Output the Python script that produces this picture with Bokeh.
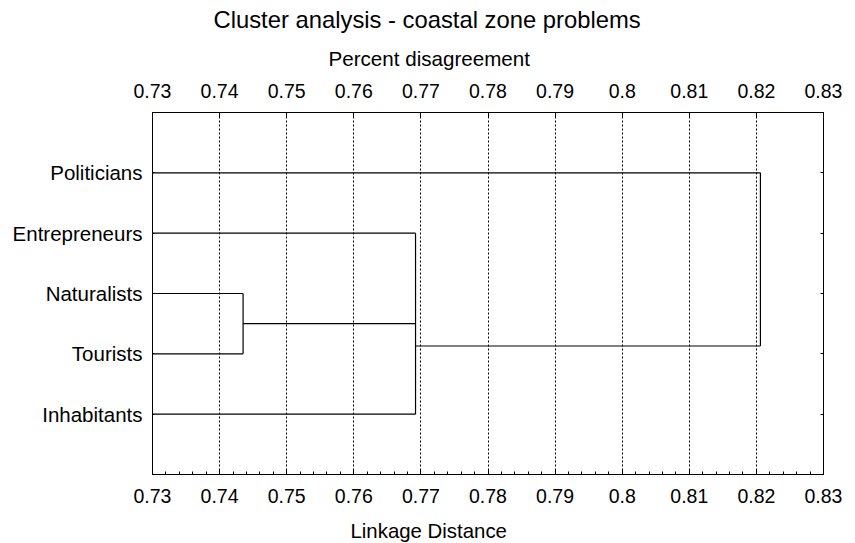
from bokeh.plotting import figure
from bokeh.models import Range1d, LinearAxis, FixedTicker, CustomJSTickFormatter, Title
from bokeh.embed import file_html
from bokeh.resources import INLINE

# ---- data ----
title_text = "Cluster analysis - coastal zone problems"
top_label = "Percent disagreement"
bottom_label = "Linkage Distance"

leaves = ["Politicians", "Entrepreneurs", "Naturalists", "Tourists", "Inhabitants"]
leaf_pos = [1, 2, 3, 4, 5]

x_ticks = [0.73, 0.74, 0.75, 0.76, 0.77, 0.78, 0.79, 0.80, 0.81, 0.82, 0.83]

merge_names = ["M1", "M2", "M3"]
merge_dist = [0.7435, 0.7692, 0.8206]
merge_members = [["Naturalists", "Tourists"],
                 ["Entrepreneurs", "M1", "Inhabitants"],
                 ["Politicians", "M2"]]
merge_exit_pos = [3.5, 3.87, None]

# ---- build dendrogram segments ----
node_x = {n: x_ticks[0] for n in leaves}
node_y = {n: y for n, y in zip(leaves, leaf_pos)}
xs, ys = [], []
for name, d, members, ey in zip(merge_names, merge_dist, merge_members, merge_exit_pos):
    for m in members:
        xs.append([node_x[m], d]); ys.append([node_y[m], node_y[m]])
    yv = [node_y[m] for m in members]
    xs.append([d, d]); ys.append([min(yv), max(yv)])
    node_x[name] = d
    node_y[name] = ey

FONT = "Liberation Sans"

p = figure(width=855, height=543, x_range=Range1d(0.73, 0.83), y_range=Range1d(6, 0),
           output_backend="svg", toolbar_location=None,
           x_axis_location=None, y_axis_location=None,
           min_border_left=152, min_border_right=32, min_border_top=112, min_border_bottom=69)
p.outline_line_color = "black"
p.outline_line_width = 1
p.background_fill_color = "white"
p.border_fill_color = "white"

fmt = CustomJSTickFormatter(code="return (Math.round(tick*100)/100).toString();")

def xaxis(loc, minor, standoff):
    ax = LinearAxis(ticker=FixedTicker(ticks=x_ticks,
                                       minor_ticks=[round(0.73 + i * 0.002, 4) for i in range(51)] if minor else []),
                    formatter=fmt)
    ax.axis_line_color = "black"
    ax.major_tick_line_color = "black"
    ax.major_tick_in = 5
    ax.major_tick_out = 0
    ax.minor_tick_line_color = "black" if minor else None
    ax.minor_tick_in = 3
    ax.minor_tick_out = 0
    ax.major_label_text_font = FONT
    ax.major_label_text_font_size = "19.5px"
    ax.major_label_text_color = "black"
    ax.major_label_standoff = standoff
    p.add_layout(ax, loc)
    return ax

xaxis("above", False, 15)
xaxis("below", True, 14)

yl = LinearAxis(ticker=FixedTicker(ticks=leaf_pos, minor_ticks=[]),
                major_label_overrides={v: n for v, n in zip(leaf_pos, leaves)})
yl.axis_line_color = "black"
yl.major_tick_line_color = "black"
yl.major_tick_in = 2
yl.major_tick_out = 0
yl.major_label_text_font = FONT
yl.major_label_text_font_size = "20.5px"
yl.major_label_text_color = "black"
yl.major_label_standoff = 10
p.add_layout(yl, "left")

yr = LinearAxis(ticker=FixedTicker(ticks=leaf_pos, minor_ticks=[]))
yr.axis_line_color = "black"
yr.major_tick_line_color = "black"
yr.major_tick_in = 3
yr.major_tick_out = 0
yr.major_label_text_font_size = "0px"
yr.major_label_text_color = None
p.add_layout(yr, "right")

p.xgrid.ticker = FixedTicker(ticks=x_ticks[1:-1])
p.xgrid.grid_line_color = "black"
p.xgrid.grid_line_dash = "2 2"
p.xgrid.grid_line_width = 1
p.ygrid.grid_line_color = None

p.multi_line(xs, ys, line_color="black", line_width=1.2)

# axis titles, offset so they are centred where the reference has them
p.add_layout(Title(text=top_label, align="left", offset=176, text_font=FONT,
                   text_font_size="20.6px", text_font_style="normal", text_color="black",
                   standoff=21), "above")
p.add_layout(Title(text=bottom_label, align="left", offset=198, text_font=FONT,
                   text_font_size="20.4px", text_font_style="normal", text_color="black",
                   standoff=2, padding=(0, 0, 11, 0), vertical_align="bottom"), "below")

p.title.text = title_text
p.title.align = "left"
p.title.offset = 61
p.title.text_font = FONT
p.title.text_font_size = "23.8px"
p.title.text_font_style = "normal"
p.title.text_color = "black"
p.title.standoff = 3

open("out.html", "w").write(file_html(p, INLINE))
